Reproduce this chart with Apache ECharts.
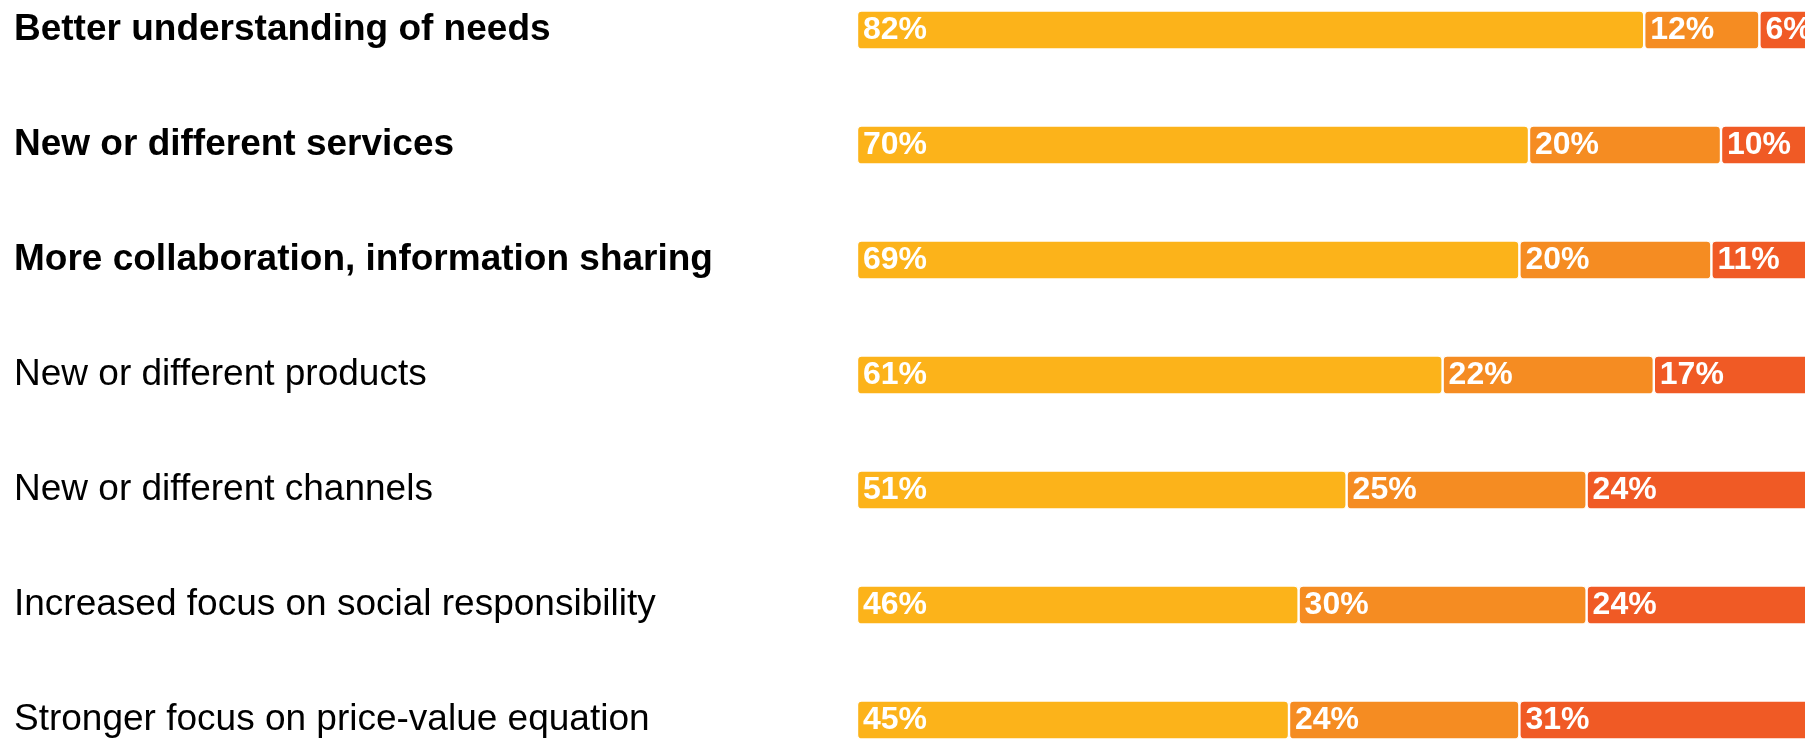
<!DOCTYPE html>
<html>
<head>
<meta charset="utf-8">
<script src="https://cdn.jsdelivr.net/npm/echarts@6/dist/echarts.min.js"></script>
<style>
  html, body { margin: 0; padding: 0; background: #ffffff; }
  #chart { width: 1805px; height: 739px; }
</style>
</head>
<body>
<div id="chart"></div>
<script>
// Survey responses: share of respondents per level, by area of change
const categories = [
  'Better understanding of needs',
  'New or different services',
  'More collaboration, information sharing',
  'New or different products',
  'New or different channels',
  'Increased focus on social responsibility',
  'Stronger focus on price-value equation'
];
const seriesNames = ['Level 1', 'Level 2', 'Level 3'];
const level1 = [82, 70, 69, 61, 51, 46, 45];
const level2 = [12, 20, 20, 22, 25, 30, 24];
const level3 = [6, 10, 11, 17, 24, 24, 31];

// the first rows are set in bold
const BOLD_ROWS = 3;
const COLORS = ['#FCB31A', '#F58C22', '#F05A25'];
const FONT = "'Liberation Sans', Arial, Helvetica, sans-serif";

const chart = echarts.init(document.getElementById('chart'), null, { renderer: 'canvas' });

function makeSeries(name, data, color) {
  return {
    name: name,
    type: 'bar',
    stack: 'total',
    data: data,
    barWidth: 39,
    itemStyle: {
      color: color,
      borderColor: '#ffffff',
      borderWidth: 1.2,
      borderRadius: 4
    },
    label: {
      show: true,
      position: 'insideLeft',
      distance: 6,
      formatter: '{c}%',
      color: '#ffffff',
      fontFamily: FONT,
      fontWeight: 'bold',
      fontSize: 32
    },
    emphasis: { disabled: true },
    animation: false
  };
}

chart.setOption({
  backgroundColor: '#ffffff',
  animation: false,
  grid: {
    left: 857, width: 960, top: -27.5, height: 805,
    containLabel: false,
    outerBoundsMode: 'none'
  },
  xAxis: {
    type: 'value',
    min: 0,
    max: 100,
    show: false
  },
  yAxis: {
    type: 'category',
    inverse: true,
    data: categories,
    axisLine: { show: false },
    axisTick: { show: false },
    splitLine: { show: false },
    axisLabel: {
      margin: 843,
      align: 'left',
      fontFamily: FONT,
      fontSize: 37,
      color: '#000000',
      formatter: function (value, idx) {
        return idx < BOLD_ROWS ? '{b|' + value + '}' : '{n|' + value + '}';
      },
      rich: {
        b: { fontFamily: FONT, fontSize: 37, fontWeight: 'bold', color: '#000000' },
        n: { fontFamily: FONT, fontSize: 37, fontWeight: 'normal', color: '#000000' }
      }
    }
  },
  series: [
    makeSeries(seriesNames[0], level1, COLORS[0]),
    makeSeries(seriesNames[1], level2, COLORS[1]),
    makeSeries(seriesNames[2], level3, COLORS[2])
  ]
});
</script>
</body>
</html>
